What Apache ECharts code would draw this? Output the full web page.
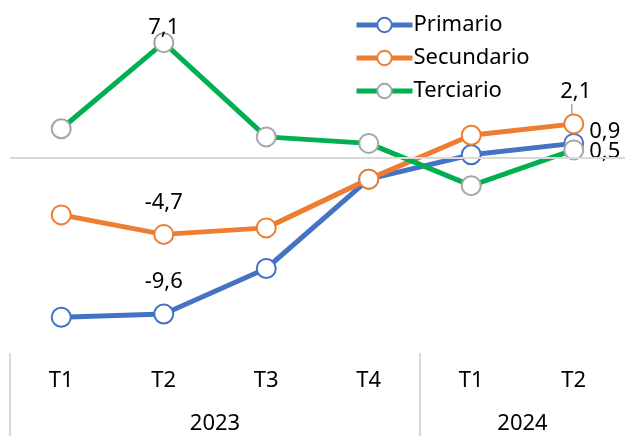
<!DOCTYPE html>
<html><head><meta charset="utf-8">
<script src="https://cdn.jsdelivr.net/npm/echarts@6/dist/echarts.min.js"></script>
<style>html,body{margin:0;padding:0;background:#fff}#c{width:625px;height:436px}</style>
</head><body><div id="c"></div>
<script>
const categories = ['T1','T2','T3','T4','T1','T2'];
const years = ['2023','2024'];
const yearCenters = [1.5, 4.5];
const yearBounds = [-0.5, 3.5];
const primario = [-9.8, -9.6, -6.8, -1.3, 0.2, 0.9];
const secundario = [-3.5, -4.7, -4.3, -1.3, 1.4, 2.1];
const terciario = [1.8, 7.1, 1.3, 0.9, -1.7, 0.5];

const FONT = 'Noto Sans';
const fmt = v => String(v).replace('.', ',');

function build(values, labels) {
  return values.map((v, i) => {
    const item = { value: v };
    if (labels[i]) item.label = Object.assign({ show: true, formatter: p => fmt(p.value) }, labels[i]);
    return item;
  });
}

const baseLabel = { color: '#000', fontSize: 22, fontFamily: FONT };

const chart = echarts.init(document.getElementById('c'));
chart.setOption({
  animation: false,
  grid: { left: 10, right: -2, top: 28, bottom: 83 },
  legend: {
    orient: 'vertical', left: 349, top: 8, itemWidth: 56, itemHeight: 18, itemGap: 9,
    lineStyle: { width: 5 },
    itemStyle: { borderWidth: 2 },
    textStyle: { fontSize: 22, lineHeight: 24, fontFamily: FONT, color: '#000', padding: [0,0,0,-4] },
    data: ['Primario','Secundario','Terciario']
  },
  xAxis: [
    { type: 'category', data: categories, position: 'bottom', offset: 0,
      axisLine: { show: false }, axisTick: { show: false },
      axisLabel: { margin: 17, fontSize: 22, fontFamily: FONT, color: '#000' } },
    { type: 'value', min: -0.5, max: 5.5, position: 'bottom', offset: 0,
      axisLine: { show: false }, splitLine: { show: false },
      axisTick: { show: true, customValues: yearBounds, length: 84, lineStyle: { color: '#D9D9D9', width: 2 } },
      axisLabel: { customValues: yearCenters, margin: 60, fontSize: 22, fontFamily: FONT, color: '#000',
        formatter: v => years[yearCenters.indexOf(v)] } }
  ],
  yAxis: { type: 'value', min: -12, max: 8, show: false },
  series: [
    { name: 'Primario', type: 'line', data: build(primario, {1: Object.assign({ position: 'top', distance: 11 }, baseLabel), 5: Object.assign({ position: 'right', distance: 5, offset: [0, -12] }, baseLabel)}),
      symbol: 'circle', symbolSize: 19, lineStyle: { color: '#4472C4', width: 5 },
      itemStyle: { color: '#fff', borderColor: '#4472C4', borderWidth: 2 }, z: 2,
      markLine: { silent: true, symbol: 'none', label: { show: false }, lineStyle: { color: '#D9D9D9', width: 2, type: 'solid' }, data: [{ yAxis: 0 }] } },
    { name: 'Secundario', type: 'line', data: build(secundario, {1: Object.assign({ position: 'top', distance: 10 }, baseLabel), 5: Object.assign({ position: 'top', distance: 11, offset: [2, 0] }, baseLabel)}),
      symbol: 'circle', symbolSize: 19, lineStyle: { color: '#ED7D31', width: 5 },
      itemStyle: { color: '#fff', borderColor: '#ED7D31', borderWidth: 2 }, z: 3,
      markPoint: { silent: true, label: { show: false },
        data: [{ coord: [5, secundario[5]], symbol: 'rect', symbolSize: [1.5, 10], symbolOffset: [-2, -15], itemStyle: { color: '#A5A5A5' } }] } },
    { name: 'Terciario', type: 'line', data: build(terciario, {1: Object.assign({ position: 'top', distance: -7 }, baseLabel), 5: Object.assign({ position: 'right', distance: 5, offset: [0, 2] }, baseLabel)}),
      symbol: 'circle', symbolSize: 19, lineStyle: { color: '#00B050', width: 5 },
      itemStyle: { color: '#fff', borderColor: '#A5A5A5', borderWidth: 2 }, z: 4 }
  ]
});
</script></body></html>
